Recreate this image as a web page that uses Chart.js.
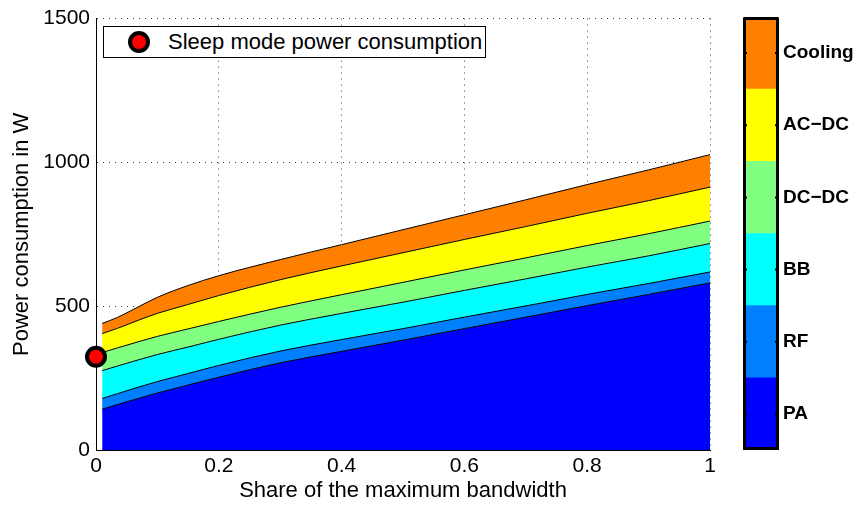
<!DOCTYPE html>
<html lang="en">
<head>
    <meta charset="utf-8">
    <script src="https://cdn.jsdelivr.net/npm/chart.js/dist/chart.umd.min.js"></script>
    <style>
        body { margin: 0; background: #fff; }
        #wrap { position: relative; width: 857px; height: 506px; font-family: 'Liberation Sans', Arial, Helvetica, sans-serif; }
        #chart { position: absolute; left: 0; top: 0; }
        #colorbar { position: absolute; left: 720px; top: 0; }
        #legend-box {
            position: absolute; left: 103px; top: 26px; width: 381px; height: 30px;
            border: 1px solid #000; background: #fff;
        }
        #legend-mark {
            position: absolute; left: 24px; top: 4px; width: 14px; height: 14px;
            border: 4px solid #000; border-radius: 50%; background: #f00;
        }
        #legend-text { position: absolute; left: 64px; top: 2px; font-size: 22px; line-height: 26px; color: #000; }
    </style>
</head>
<body>
<div id="wrap">
    <canvas id="chart" width="857" height="506"></canvas>
    <canvas id="colorbar" width="137" height="506"></canvas>
    <div id="legend-box"><span id="legend-mark"></span><span id="legend-text">Sleep mode power consumption</span></div>

    <script>
        // share of the maximum bandwidth
        const bandwidthShare = [0.01, 0.035, 0.07, 0.1, 0.15, 0.2, 0.3, 0.4, 0.5, 0.6, 0.7, 0.8, 0.9, 1.0];

        // power per component in W (stacked bottom to top)
        const powerPA      = [142, 158, 180, 198, 226, 253, 303, 343, 382, 422, 462, 502, 541, 581];
        const powerRF      = [37, 38, 39, 40, 40, 41, 41, 41, 40, 40, 39, 39, 38, 38];
        const powerBB      = [97, 96, 95, 94, 92, 91, 90, 91, 92, 93, 94, 95, 96, 99];
        const powerDCDC    = [63, 63, 63, 63, 63, 62, 62, 65, 69, 71, 73, 75, 77, 78];
        const powerACDC    = [66, 68, 75, 80, 85, 90, 96, 100, 103, 106, 109, 112, 115, 118];
        const powerCooling = [35, 38, 47, 56, 66, 69, 70, 74, 80, 86, 93, 100, 107, 113];

        const sleepShare = 0;
        const sleepPower = 324;

        const componentNames  = ['PA', 'RF', 'BB', 'DC\u2212DC', 'AC\u2212DC', 'Cooling'];
        const componentColors = ['#0000ff', '#0080ff', '#00ffff', '#80ff80', '#ffff00', '#ff8000'];
        const componentPower  = [powerPA, powerRF, powerBB, powerDCDC, powerACDC, powerCooling];

        const xTicks = [0, 0.2, 0.4, 0.6, 0.8, 1];
        const yTicks = [0, 500, 1000, 1500];

        Chart.defaults.font.family = "'Liberation Sans', Arial, Helvetica, sans-serif";
        Chart.defaults.color = '#000';

        const gridDots = {color: '#444', width: 1};

        const datasets = componentPower.map(function(values, i) {
            return {
                label: componentNames[i],
                data: values.map(function(v, j) { return {x: bandwidthShare[j], y: v}; }),
                backgroundColor: componentColors[i],
                borderColor: '#000',
                borderWidth: 1,
                pointRadius: 0,
                fill: i === 0 ? 'origin' : '-1',
                cubicInterpolationMode: 'monotone',
                stack: 'components'
            };
        });

        datasets.push({
            label: 'Sleep mode power consumption',
            data: [{x: sleepShare, y: sleepPower}],
            stack: 'sleep',
            showLine: false,
            pointRadius: 9,
            pointBorderWidth: 4,
            pointBackgroundColor: '#ff0000',
            pointBorderColor: '#000',
            clip: false,
            order: -1
        });

        const config = {
            type: 'line',
            data: {datasets: datasets},
            options: {
                responsive: false,
                animation: false,
                layout: {padding: {left: 0, top: 18, right: 147, bottom: 0}},
                plugins: {
                    legend: {display: false},
                    tooltip: {enabled: false},
                    filler: {drawTime: 'beforeDatasetsDraw'}
                },
                scales: {
                    x: {
                        type: 'linear',
                        min: 0,
                        max: 1,
                        afterBuildTicks: function(scale) {
                            scale.ticks = xTicks.map(function(v) { return {value: v}; });
                        },
                        afterFit: function(scale) { scale.height = 56; },
                        ticks: {
                            font: {size: 21},
                            padding: 4,
                            maxRotation: 0,
                            callback: function(v) { return String(+v.toFixed(1)); }
                        },
                        grid: {color: gridDots.color, lineWidth: gridDots.width, drawTicks: false},
                        border: {display: true, color: '#000', width: 1, dash: [1, 5]},
                        title: {display: true, text: 'Share of the maximum bandwidth', font: {size: 22}, padding: {top: 0, bottom: 2}}
                    },
                    y: {
                        stacked: true,
                        min: 0,
                        max: 1500,
                        afterBuildTicks: function(scale) {
                            scale.ticks = yTicks.map(function(v) { return {value: v}; });
                        },
                        afterFit: function(scale) { scale.width = 96; },
                        ticks: {
                            font: {size: 21},
                            padding: 6,
                            callback: function(v) { return String(v); }
                        },
                        grid: {color: gridDots.color, lineWidth: gridDots.width, drawTicks: false},
                        border: {display: true, color: '#000', width: 1, dash: [1, 5]},
                        title: {display: true, text: 'Power consumption in W', font: {size: 22}, padding: {top: 9, bottom: 0}}
                    }
                }
            }
        };
        const chart = new Chart(document.getElementById('chart'), config);

        // colour bar: one stacked bar, one segment per component
        const colorbarFrame = {
            id: 'colorbarFrame',
            afterDraw: function(c) {
                const ctx = c.ctx;
                const area = c.chartArea;
                const y = c.scales.y;
                ctx.save();
                ctx.strokeStyle = '#000';
                ctx.lineWidth = 2;
                y.ticks.forEach(function(t) {
                    const py = y.getPixelForValue(t.value);
                    ctx.beginPath();
                    ctx.moveTo(area.left, py); ctx.lineTo(area.left + 4, py);
                    ctx.moveTo(area.right - 4, py); ctx.lineTo(area.right, py);
                    ctx.stroke();
                });
                ctx.lineWidth = 3;
                ctx.lineJoin = 'round';
                ctx.strokeRect(area.left + 1.5, area.top + 1.5, area.right - area.left - 3, area.bottom - area.top - 3);
                ctx.restore();
            }
        };

        const colorbarConfig = {
            type: 'bar',
            data: {
                labels: [''],
                datasets: componentNames.map(function(name, i) {
                    return {label: name, data: [1], backgroundColor: componentColors[i], barPercentage: 1, categoryPercentage: 1};
                })
            },
            options: {
                responsive: false,
                animation: false,
                layout: {padding: {left: 23, top: 17, right: 0, bottom: 56}},
                plugins: {legend: {display: false}, tooltip: {enabled: false}},
                scales: {
                    x: {stacked: true, display: false},
                    y: {
                        stacked: true,
                        position: 'right',
                        min: 0,
                        max: componentNames.length,
                        afterBuildTicks: function(scale) {
                            scale.ticks = componentNames.map(function(n, i) { return {value: i + 0.5}; });
                        },
                        afterFit: function(scale) { scale.width = 78; },
                        ticks: {
                            font: {size: 19, weight: 'bold'},
                            padding: 4,
                            callback: function(v, i) { return componentNames[i]; }
                        },
                        grid: {display: false, drawTicks: false},
                        border: {display: false}
                    }
                }
            },
            plugins: [colorbarFrame]
        };
        const colorbar = new Chart(document.getElementById('colorbar'), colorbarConfig);
    </script>
</div>
</body>
</html>
